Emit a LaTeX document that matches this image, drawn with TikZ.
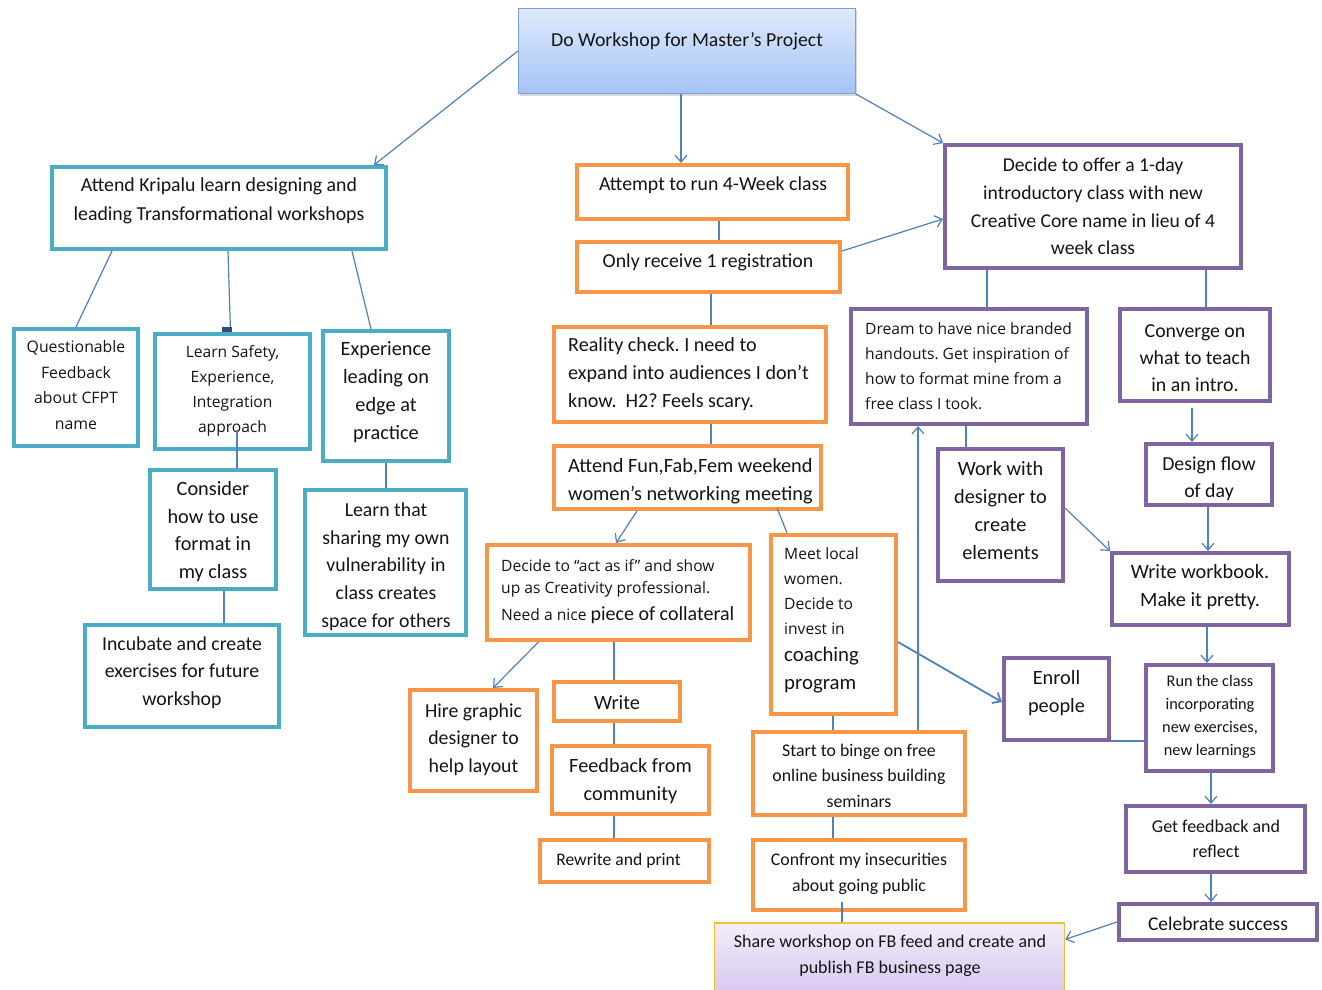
\documentclass[tikz,border=0pt]{standalone}
\usepackage{fontspec}
\setmainfont{Carlito}
\newfontfamily\tah{Open Sans}
\usetikzlibrary{arrows.meta,shadows}
\definecolor{cTeal}{HTML}{4BACC6}
\definecolor{cOrg}{HTML}{F79646}
\definecolor{cPur}{HTML}{8064A2}
\definecolor{cLn}{HTML}{4F81BD}
\definecolor{cTopB}{HTML}{7AA0DC}
\definecolor{cTopA}{HTML}{DFEAFC}
\definecolor{cTopC}{HTML}{A4C4F7}
\definecolor{cGold}{HTML}{F2C230}
\definecolor{cShA}{HTML}{F2EDFA}
\definecolor{cShB}{HTML}{D4C4EE}
\definecolor{cDark}{HTML}{2E4D7B}
\definecolor{cTxt}{HTML}{141414}
\newcommand{\fz}[2]{\fontsize{#1}{#2}\selectfont}
\newcommand{\bx}[6]{\node[#2, minimum width={#5-#3-4}, minimum height={#6-#4-4}] (#1) at ({(#3+#5)/2},{(#4+#6)/2}) {};}
\frenchspacing
\begin{document}
\begin{tikzpicture}[x=1pt,y=-1pt,
  boxbase/.style={draw, line width=4pt, inner sep=0pt, fill=none},
  tb/.style={boxbase, draw=cTeal},
  ob/.style={boxbase, draw=cOrg},
  pb/.style={boxbase, draw=cPur},
  txt/.style={inner sep=0pt, align=center, text=cTxt},
  ltxt/.style={inner sep=0pt, align=left, anchor=west, text=cTxt},
  ln/.style={draw=cLn, line width=1.2pt},
  arr/.style={ln, -{Straight Barb[length=7pt,width=12pt]}}]
\fill[white] (0,0) rectangle (1322,990);
\useasboundingbox (0,0) rectangle (1322,990);

% top box
\node[draw=cTopB, line width=1.3pt, top color=cTopA, bottom color=cTopC, minimum width=337, minimum height=85, inner sep=0pt,
  drop shadow={shadow xshift=1.5pt, shadow yshift=-2pt, opacity=0.3}] (top) at (687,51) {};
\node[txt, font=\fz{19.8}{28}] (t-top) at (687,41) {Do Workshop for Master’s Project};

% share box
\node[draw=cGold, line width=1.3pt, top color=cShA, bottom color=cShB, minimum width=350, minimum height=77, inner sep=0pt] (share) at (889.5,961.5) {};

% teal boxes
\bx{kr}{tb}{50}{165}{388}{251}
\bx{q}{tb}{12}{327}{140}{448}
\bx{ls}{tb}{153}{332}{312}{451}
\bx{exp}{tb}{321}{329}{451}{463}
\bx{cons}{tb}{148}{468}{278}{591}
\bx{lt}{tb}{303}{488}{468}{637}
\bx{inc}{tb}{83}{623}{281}{729}
% orange boxes
\bx{att}{ob}{575}{163}{850}{221}
\bx{only}{ob}{575}{240}{842}{294}
\bx{real}{ob}{552}{325}{828}{424}
\bx{fun}{ob}{552}{444}{823}{511}
\bx{da}{ob}{485}{543}{752}{642}
\bx{meet}{ob}{769}{533}{898}{716}
\bx{hire}{ob}{408}{688}{539}{793}
\bx{wr}{ob}{552}{680}{682}{723}
\bx{fb}{ob}{550}{744}{711}{816}
\bx{rw}{ob}{538}{838}{711}{884}
\bx{binge}{ob}{751}{730}{967}{817}
\bx{conf}{ob}{751}{838}{967}{912}
% purple boxes
\bx{dec}{pb}{943}{143}{1243}{270}
\bx{dream}{pb}{849}{307}{1089}{426}
\bx{conv}{pb}{1118}{307}{1272}{403}
\bx{work}{pb}{936}{447}{1065}{583}
\bx{des}{pb}{1144}{442}{1274}{507}
\bx{ww}{pb}{1110}{551}{1291}{627}
\bx{enr}{pb}{1002}{656}{1111}{742}
\bx{run}{pb}{1144}{663}{1275}{773}
\bx{gf}{pb}{1124}{804}{1307}{874}
\bx{cel}{pb}{1117}{902}{1319}{942}

% texts
\node[txt, font=\fz{19.8}{29}] (t-kr) at (219,200.5) {Attend Kripalu learn designing and\\leading Transformational workshops};
\node[txt, font=\tah\fz{15.8}{25.5}] (t-q) at (76,385) {Questionable\\Feedback\\about CFPT\\name};
\node[txt, font=\tah\fz{15.6}{25}] (t-ls) at (232.5,391) {Learn Safety,\\Experience,\\Integration\\approach};
\node[txt, font=\fz{20.3}{28}] (t-exp) at (386,392) {Experience\\leading on\\edge at\\practice};
\node[txt, font=\fz{20.3}{27.7}] (t-cons) at (213,531.5) {Consider\\how to use\\format in\\my class};
\node[txt, font=\fz{19.8}{27.75}] (t-lt) at (386,566.5) {Learn that\\sharing my own\\vulnerability in\\class creates\\space for others};
\node[txt, font=\fz{19.8}{27.5}] (t-inc) at (182,672.5) {Incubate and create\\exercises for future\\workshop};
\node[txt, font=\fz{19.8}{28}] (t-att) at (713,185) {Attempt to run 4-Week class};
\node[txt, font=\fz{19.8}{28}] (t-only) at (708,262) {Only receive 1 registration};
\node[ltxt, font=\fz{20.1}{28}] (t-real) at (568,374) {Reality check. I need to\\expand into audiences I don’t\\know.\ \ H2? Feels scary.};
\node[ltxt, font=\fz{20.3}{28}] (t-fun) at (568,481) {Attend Fun,Fab,Fem weekend\\women’s networking meeting};
\node[ltxt, font=\tah\fz{15.6}{25}] (t-da1) at (501,565.5) {Decide to “act as if” and show};
\node[ltxt, font=\tah\fz{15.6}{25}] (t-da2) at (501,589.5) {up as Creativity professional.};
\node[ltxt, font=\fz{20}{25}] (t-da3) at (501,615.5) {{\tah\fz{15.6}{25}Need a nice }piece of collateral};
\node[ltxt, font=\tah\fz{15.6}{25}] (t-meet1) at (784,591) {Meet local\\women.\\Decide to\\invest in};
\node[ltxt, font=\fz{20.8}{28}] (t-meet2) at (784,670) {coaching\\program};
\node[txt, font=\fz{19.8}{27.5}] (t-hire) at (473.5,739.5) {Hire graphic\\designer to\\help layout};
\node[txt, font=\fz{20.3}{28}] (t-wr) at (617,703) {Write};
\node[txt, font=\fz{20.3}{28}] (t-fb) at (630.5,781) {Feedback from\\community};
\node[txt, font=\fz{17.6}{25}] (t-rw) at (618.5,861) {Rewrite and print};
\node[txt, font=\fz{17.8}{25.5}] (t-binge) at (859,775.5) {Start to binge on free\\online business building\\seminars};
\node[txt, font=\fz{17.8}{26}] (t-conf) at (859,874) {Confront my insecurities\\about going public};
\node[txt, font=\fz{18}{26}] (t-share) at (890,956) {Share workshop on FB feed and create and\\publish FB business page};
\node[txt, font=\fz{19.6}{27.7}] (t-dec) at (1093,206.5) {Decide to offer a 1-day\\introductory class with new\\Creative Core name in lieu of 4\\week class};
\node[ltxt, font=\tah\fz{15.6}{25}] (t-dream) at (865,366) {Dream to have nice branded\\handouts. Get inspiration of\\how to format mine from a\\free class I took.};
\node[txt, font=\fz{19.8}{27}] (t-conv) at (1195,358) {Converge on\\what to teach\\in an intro.};
\node[txt, font=\fz{20.3}{28}] (t-work) at (1000.5,511) {Work with\\designer to\\create\\elements};
\node[txt, font=\fz{19.8}{27}] (t-des) at (1209,478.5) {Design flow\\of day};
\node[txt, font=\fz{20.3}{28}] (t-ww) at (1200,587) {Write workbook.\\Make it pretty.};
\node[txt, font=\fz{20.3}{28}] (t-enr) at (1056.5,693) {Enroll\\people};
\node[txt, font=\fz{16.3}{23}] (t-run) at (1210,717) {Run the class\\incorporating\\new exercises,\\new learnings};
\node[txt, font=\fz{18}{25}] (t-gf) at (1216,838.5) {Get feedback and\\reflect};
\node[txt, font=\fz{19.5}{28}] (t-cel) at (1218,924) {Celebrate success};

% helper coordinates
\coordinate (c7) at ([xshift=4.5pt,yshift=21pt]ls.south);
\coordinate (c22) at ([xshift=-17pt,yshift=10pt]conf.south);
\coordinate (c27) at ([xshift=-3pt,yshift=-5pt]conv.south);
\coordinate (c32) at ([yshift=1pt]enr.south east);

% connectors
\draw[arr] (top.west) -- ([xshift=155pt]kr.north);
\draw[arr] ([xshift=-6pt]top.south) -- ([xshift=-6pt]top.south |- att.north);
\draw[arr] (top.south east) -- (dec.north west);
\draw[ln] ([xshift=-107pt]kr.south) -- (q.north);
\draw[ln] ([xshift=9pt]kr.south) -- ([xshift=-2pt]ls.north);
\fill[cDark] ([xshift=-11pt,yshift=5pt]ls.north) rectangle ([xshift=-1pt]ls.north);
\draw[ln] ([xshift=133pt]kr.south) -- ([xshift=-15pt]exp.north);
\draw[ln] (c7) -- (c7 |- cons.north);
\draw[ln] (exp.south) -- (exp.south |- lt.north);
\draw[ln] ([xshift=11pt]cons.south) -- ([xshift=11pt]cons.south |- inc.north);
\draw[ln] ([xshift=6.5pt]att.south) -- ([xshift=6.5pt]att.south |- only.north);
\draw[ln] ([xshift=2.5pt]only.south) -- ([xshift=2.5pt]only.south |- real.north);
\draw[arr] ([yshift=16pt]only.east) -- ([yshift=-12.5pt]dec.west);
\draw[ln] ([xshift=21pt]real.south) -- ([xshift=21pt]real.south |- fun.north);
\draw[arr] ([xshift=-50.5pt]fun.south) -- ([xshift=-2.5pt]da.north);
\draw[ln] ([xshift=89.5pt,yshift=3pt]fun.south) -- ([xshift=-46.5pt]meet.north);
\draw[arr] ([xshift=-80pt]da.south) -- ([xshift=19.5pt]hire.north);
\draw[ln] ([xshift=-4.5pt]da.south) -- ([xshift=-4.5pt]da.south |- wr.north);
\draw[ln] ([xshift=-3pt]wr.south) -- ([xshift=-3pt]wr.south |- fb.north);
\draw[ln] ([xshift=-16.5pt]fb.south) -- ([xshift=-16.5pt]fb.south |- rw.north);
\draw[ln] ([xshift=-0.5pt]meet.south) -- ([xshift=-0.5pt]meet.south |- binge.north);
\draw[ln] ([xshift=-26pt]binge.south) -- ([xshift=-26pt]binge.south |- conf.north);
\draw[ln] (c22) -- (c22 |- share.north);
\draw[arr] ([xshift=59pt]binge.north) -- ([xshift=59pt]binge.north |- dream.south);
\draw[ln] ([xshift=-106pt]dec.south) -- ([xshift=-106pt]dec.south |- dream.north);
\draw[ln] ([xshift=113pt]dec.south) -- ([xshift=113pt]dec.south |- conv.north);
\draw[ln] ([xshift=-3pt]dream.south) -- ([xshift=-3pt]dream.south |- work.north);
\draw[arr] (c27) -- (c27 |- des.north);
\draw[arr] ([xshift=-1pt]des.south) -- ([xshift=-1pt]des.south |- ww.north);
\draw[arr] ([yshift=7pt]work.east) -- (ww.north west);
\draw[arr] ([xshift=6.5pt]ww.south) -- ([xshift=6.5pt]ww.south |- run.north);
\draw[arr, line width=1.8pt] ([yshift=-17.5pt]meet.east) -- ([yshift=-3pt]enr.west);
\draw[ln] (c32) -- (c32 -| run.west);
\draw[arr] ([xshift=1.5pt]run.south) -- ([xshift=1.5pt]run.south |- gf.north);
\draw[arr] ([xshift=-4.5pt]gf.south) -- ([xshift=-4.5pt]gf.south |- cel.north);
\draw[arr] (cel.west) -- ([yshift=-17pt]share.north east);
\end{tikzpicture}
\end{document}
